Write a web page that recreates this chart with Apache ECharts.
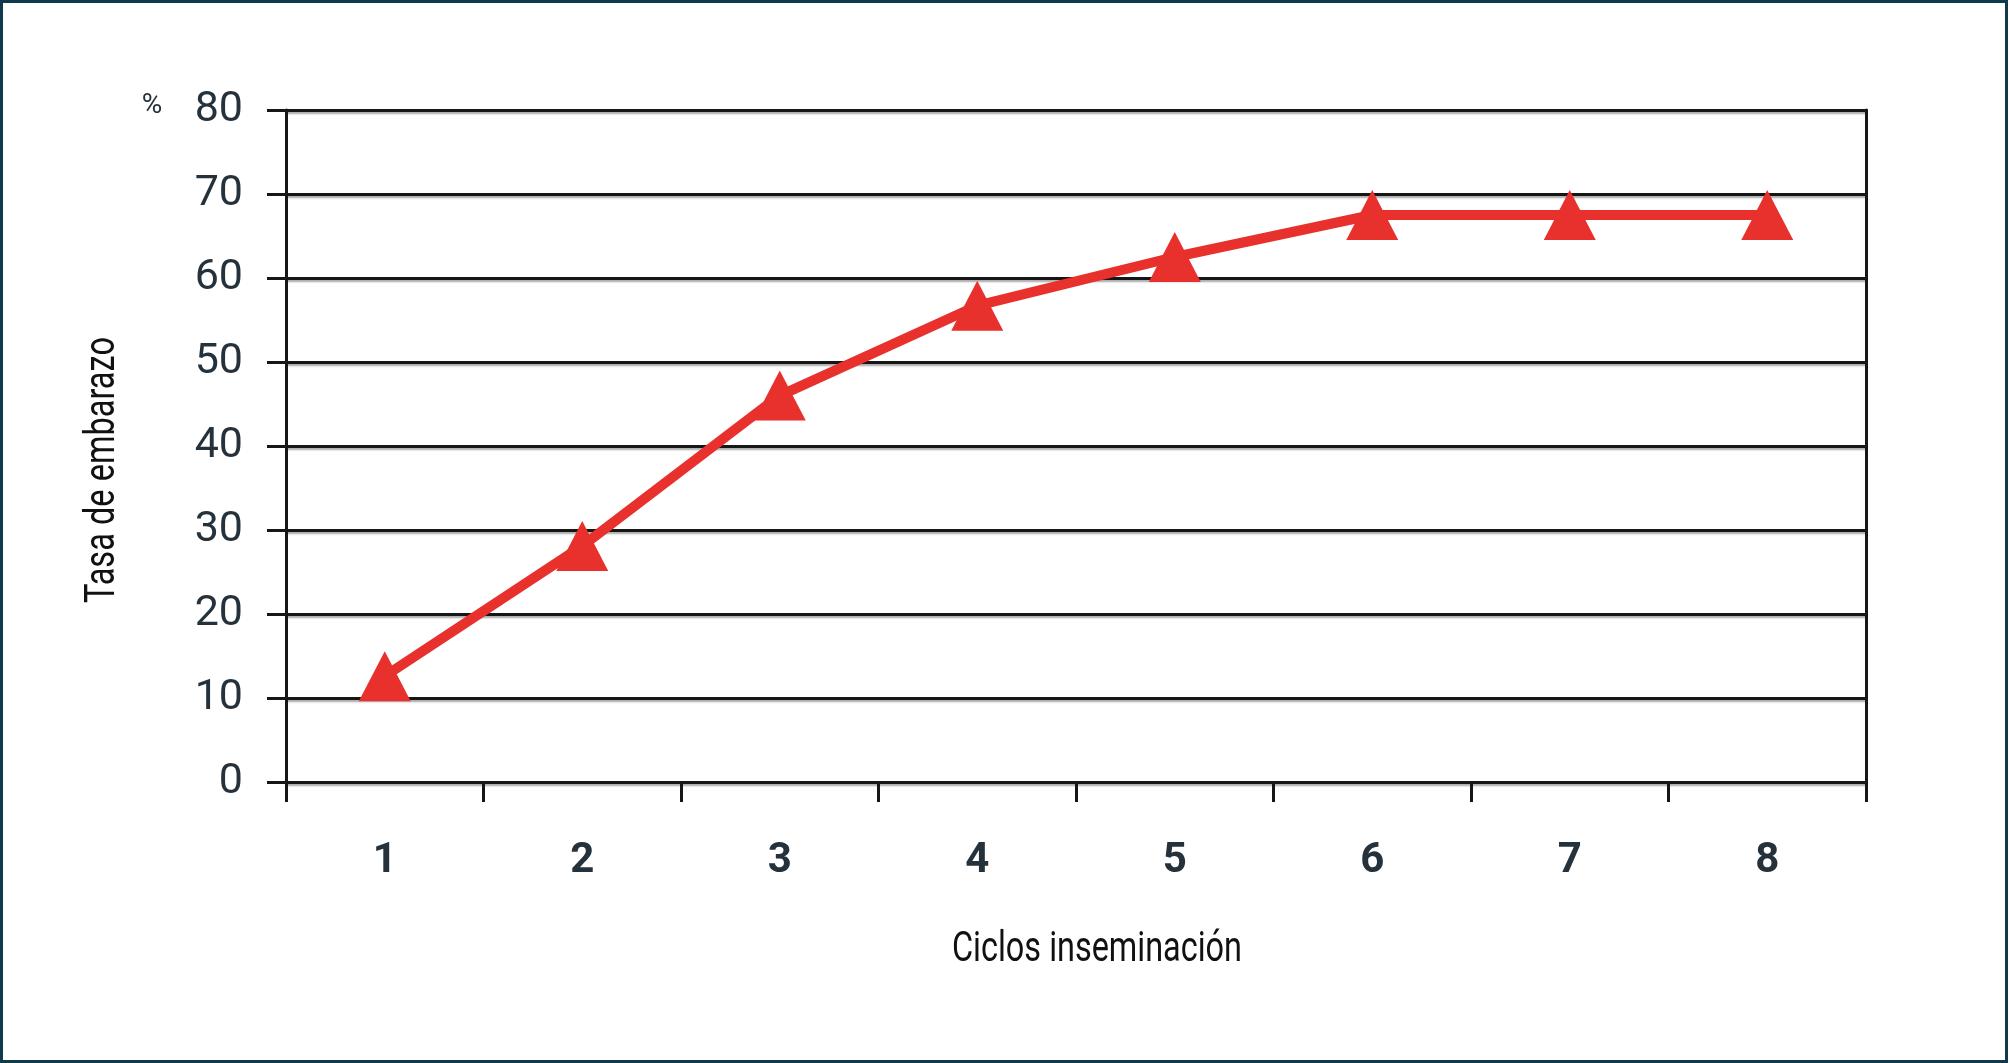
<!DOCTYPE html>
<html>
<head>
<meta charset="utf-8">
<script src="https://cdn.jsdelivr.net/npm/echarts@6/dist/echarts.min.js"></script>
<style>
html,body{margin:0;padding:0;background:#fff;}
#chart{width:2010px;height:1063px;}
</style>
</head>
<body>
<div id="chart"></div>
<script>
const categories = ['1','2','3','4','5','6','7','8'];
const pregnancyRate = [12.6, 28.1, 46.0, 56.7, 62.5, 67.5, 67.5, 67.5];
const yTicks = [0, 10, 20, 30, 40, 50, 60, 70, 80];
const yAxisTitle = 'Tasa de embarazo';
const xAxisTitle = 'Ciclos inseminación';
const unitLabel = '%';

const fam = "Roboto, 'Noto Sans', sans-serif";
const black = '#161616';
const gridLineStyle = {color: black, width: 3, shadowColor: 'rgba(0,0,0,0.35)', shadowBlur: 2, shadowOffsetY: 2};

// fit a title's horizontal extent to a target width
const ctx = document.createElement('canvas').getContext('2d');
function fitScale(text, font, target) {
  ctx.font = font;
  return target / ctx.measureText(text).width;
}
const titleFont = '400 42px ' + fam;
const xTitleScale = fitScale(xAxisTitle, titleFont, 290);
const yTitleScale = fitScale(yAxisTitle, titleFont, 266);

const chart = echarts.init(document.getElementById('chart'), null, {renderer: 'canvas'});
chart.setOption({
  animation: false,
  backgroundColor: '#fff',
  grid: {left: 286, right: 144, top: 110, bottom: 281, containLabel: false},
  xAxis: {
    type: 'category',
    data: categories,
    boundaryGap: true,
    axisLine: {show: true, lineStyle: {color: black, width: 3}},
    axisTick: {show: true, length: 20, alignWithLabel: false, lineStyle: {color: black, width: 3}},
    axisLabel: {margin: 58, fontSize: 42, fontWeight: 'bold', color: '#26323b', fontFamily: fam},
    splitLine: {show: false}
  },
  yAxis: [{
    type: 'value',
    min: yTicks[0],
    max: yTicks[yTicks.length - 1],
    interval: 10,
    axisLine: {show: true, lineStyle: {color: black, width: 3}},
    axisTick: {show: true, length: 19, lineStyle: {color: black, width: 3}},
    axisLabel: {margin: 43, fontSize: 43, color: '#26323b', fontFamily: fam},
    splitLine: {show: true, lineStyle: gridLineStyle}
  }, {
    type: 'value',
    position: 'right',
    min: yTicks[0],
    max: yTicks[yTicks.length - 1],
    interval: 10,
    axisLine: {show: true, lineStyle: {color: black, width: 3}},
    axisTick: {show: false},
    axisLabel: {show: false},
    splitLine: {show: false}
  }],
  series: [{
    type: 'line',
    data: pregnancyRate,
    yAxisIndex: 0,
    symbol: 'triangle',
    symbolSize: [52, 50],
    lineStyle: {color: '#e8302c', width: 10},
    itemStyle: {color: '#e8302c'},
    z: 5
  }],
  graphic: [
    {type: 'rect', shape: {x: 1.5, y: 1.5, width: 2005, height: 1060}, style: {fill: 'none', stroke: '#0e3a4c', lineWidth: 3}, silent: true},
    {type: 'text', x: 152, y: 106, style: {text: unitLabel, font: "28px " + fam, fill: '#26323b', align: 'center', verticalAlign: 'middle'}},
    {type: 'text', x: 103, y: 470, rotation: Math.PI / 2, scaleX: yTitleScale, style: {text: yAxisTitle, font: titleFont, fill: '#111', align: 'center', verticalAlign: 'middle'}},
    {type: 'text', x: 1097, y: 950, scaleX: xTitleScale, style: {text: xAxisTitle, font: titleFont, fill: '#111', align: 'center', verticalAlign: 'middle'}}
  ]
});
</script>
</body>
</html>
